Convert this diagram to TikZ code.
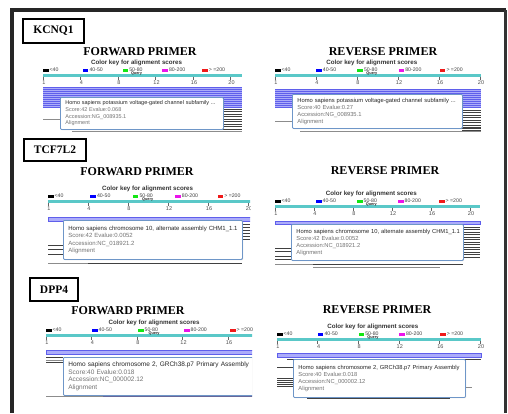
\documentclass[tikz,border=0pt]{standalone}
\usepackage{fontspec}
\setmainfont{Liberation Serif}
\newfontfamily\popfont{Liberation Sans}
\usetikzlibrary{shadows}

\definecolor{querycyan}{RGB}{90,200,200}
\definecolor{hitblue}{RGB}{95,95,235}
\definecolor{hitfill}{RGB}{172,172,250}
\definecolor{popborder}{RGB}{110,150,200}
\definecolor{keygreen}{RGB}{20,230,20}
\definecolor{keymagenta}{RGB}{235,20,235}
\definecolor{keyred}{RGB}{240,25,25}

\tikzset{
  genebox/.style={draw, line width=1.2pt, inner sep=0pt, font=\bfseries\fontsize{11.5}{12}\selectfont},
  primertitle/.style={inner sep=0pt, font=\bfseries\fontsize{12}{12}\selectfont},
  keylabel/.style={inner sep=0pt, text=black!80, font=\popfont\bfseries\fontsize{6.2}{6.5}\selectfont},
  legendtxt/.style={anchor=west, inner sep=0pt, text=black!75, font=\popfont\fontsize{5.2}{5.5}\selectfont},
  querytxt/.style={inner sep=0pt, text=black!85, font=\popfont\bfseries\fontsize{3.8}{4}\selectfont},
  ticklabel/.style={inner sep=0pt, text=black!70, font=\popfont\fontsize{5.5}{6}\selectfont},
  tickmark/.style={draw=black!60, line width=0.5pt},
  hitline/.style={draw=hitblue, line width=0.5pt},
  hitband/.style={fill=hitfill, draw=hitblue, line width=0.6pt},
  darktrace/.style={draw=black!75, line width=0.9pt},
  graytrace/.style={draw=black!45, line width=0.9pt},
  popup/.style={anchor=north west, draw=popborder, line width=0.8pt, fill=white,
    rounded corners=1pt, align=left, inner sep=0pt, inner xsep=5pt, text=black!55,
    font=\popfont\fontsize{5.8}{7}\selectfont,
    drop shadow={shadow xshift=0.8pt, shadow yshift=-0.8pt, opacity=0.3}},
}

% color key, query bar and ticks: #1 left, #2 key y, #3 bar width, #4 tick spacing
\newcommand{\colorkey}[4]{%
  \node[keylabel] at ({#1+0.47*#3},#2) {Color key for alignment scores};
  \foreach \c/\t [count=\i from 0] in {black/{<40}, blue/{40-50}, keygreen/{50-80}, keymagenta/{80-200}, keyred/{> =200}} {
    \fill[\c] ({#1+\i*#3/5},#2+5.5) rectangle ++(5.5,3);
    \node[legendtxt] at ({#1+\i*#3/5+6.5},#2+7) {\t};
  }
  \fill[querycyan] (#1,#2+11) rectangle ++(#3,2.5);
  \node[querytxt] at ({#1+0.47*#3},#2+11) {Query};
  \foreach \n [count=\i from 0] in {1,4,8,12,16,20} {
    \draw[tickmark] ({#1+\i*#4},#2+13.5) -- ++(0,3);
    \node[ticklabel] at ({#1+\i*#4+1},#2+19.5) {\n};
  }
}

\begin{document}
\begin{tikzpicture}[x=1pt, y=-1pt]
\useasboundingbox (0,0) rectangle (508,413);

% Frame
\draw[black!85, line width=3.8pt] (12,413) -- (12,10) -- (506,10);
\draw[black!80, line width=2.5pt] (505.5,10) -- (505.5,413);

% KCNQ1
\node[genebox, minimum width=61pt, minimum height=24pt] (kcnq) at (53.5,31) {KCNQ1};
\node[primertitle] (kcnqfwd) at (140,52) {FORWARD PRIMER};
\node[primertitle] (kcnqrev) at (383,52) {REVERSE PRIMER};

\colorkey{43}{63}{199}{37.5}
\fill[hitfill] (43,87) rectangle (242,107);
\foreach \k in {0,...,10} \draw[hitline] (43,87.5+2*\k) -- (242,87.5+2*\k);
\foreach \yy in {109,111.5,...,129} \draw[darktrace] (223,\yy) -- (242,\yy);
\draw[graytrace] (43,119) -- (60,119);
\draw[graytrace] (72,131) -- (242,131);
\node[popup, text width=153pt, minimum height=32pt, font=\popfont\fontsize{5.5}{6.6}\selectfont] (kcnqfwdpop) at (60,97)
  {\mbox{\textcolor{black!85}{Homo sapiens potassium voltage-gated channel subfamily ...}}\\Score:42 Evalue:0.068\\Accession:NG\_008935.1\\Alignment};

\colorkey{275}{63}{206}{41}
\fill[hitfill] (275,89) rectangle (481,108);
\foreach \k in {0,...,9} \draw[hitline] (275,89.5+2*\k) -- (481,89.5+2*\k);
\foreach \yy in {110,112.5,...,130} \draw[darktrace] (462,\yy) -- (481,\yy);
\draw[graytrace] (275,121) -- (292,121);
\draw[darktrace] (300,128.5) -- (481,128.5);
\draw[graytrace] (300,131) -- (481,131);
\node[popup, text width=160pt, minimum height=34pt] (kcnqrevpop) at (292,94)
  {\mbox{\textcolor{black!85}{Homo sapiens potassium voltage-gated channel subfamily ...}}\\Score:40 Evalue:0.27\\Accession:NG\_008935.1\\Alignment};

% TCF7L2
\node[genebox, minimum width=62pt, minimum height=22pt] (tcf) at (55,150) {TCF7L2};
\node[primertitle] (tcffwd) at (137,172) {FORWARD PRIMER};
\node[primertitle] (tcfrev) at (385,171) {REVERSE PRIMER};

\begin{scope}
\clip (15,130) rectangle (250,270);
\colorkey{48}{189}{212}{40}
\draw[hitband] (48,217) rectangle (262,221);
\foreach \yy in {224,227,...,239} \draw[darktrace] (243,\yy) -- (250,\yy);
\foreach \yy in {245,249.5,254} \draw[darktrace] (48,\yy) -- (63,\yy);
\draw[graytrace] (48,263.5) -- (88,263.5);
\draw[darktrace] (88,263.5) -- (242,263.5);
\node[popup, text width=169pt, minimum height=39pt, font=\popfont\fontsize{6}{7.5}\selectfont] (tcffwdpop) at (63,220)
  {\mbox{\textcolor{black!85}{Homo sapiens chromosome 10, alternate assembly CHM1\_1.1}}\\Score:42 Evalue:0.0052\\Accession:NC\_018921.2\\Alignment};
\end{scope}

\colorkey{275}{194}{205}{39}
\draw[hitband] (275,221) rectangle (480,224);
\foreach \yy in {227,229.5,...,257} \draw[darktrace] (463,\yy) -- (480,\yy);
\foreach \yy in {248,251.5,256,259} \draw[darktrace] (275,\yy) -- (291,\yy);
\draw[graytrace] (275,264) -- (313,264);
\draw[darktrace] (313,264) -- (463,264);
\draw[graytrace] (313,267) -- (440,267);
\node[popup, text width=162pt, minimum height=36pt] (tcfrevpop) at (291,224)
  {\mbox{\textcolor{black!85}{Homo sapiens chromosome 10, alternate assembly CHM1\_1.1}}\\Score:42 Evalue:0.0052\\Accession:NC\_018921.2\\Alignment};

% DPP4
\node[genebox, minimum width=48pt, minimum height=23pt] (dpp) at (54,289.5) {DPP4};
\node[primertitle] (dppfwd) at (128,311) {FORWARD PRIMER};
\node[primertitle] (dpprev) at (377,310) {REVERSE PRIMER};

\begin{scope}
\clip (15,300) rectangle (252,413);
\colorkey{46}{323}{230}{45.5}
\draw[hitband] (46,350) rectangle (276,354);
\draw[darktrace] (46,357) -- (63,357);
\draw[graytrace] (46,360) -- (63,360);
\draw[darktrace] (46,362.5) -- (63,362.5);
\draw[graytrace] (46,396.5) -- (103,396.5);
\draw[draw=black!65!blue!60, line width=1.4pt] (103,396.5) -- (262,396.5);
\node[popup, text width=207pt, minimum height=38pt, font=\popfont\fontsize{6.5}{7.6}\selectfont] (dppfwdpop) at (63,357)
  {\mbox{\textcolor{black!85}{Homo sapiens chromosome 2, GRCh38.p7 Primary Assembly}}\\Score:40 Evalue:0.018\\Accession:NC\_000002.12\\Alignment};
\end{scope}

\colorkey{277}{327}{204}{40.6}
\draw[hitband] (277,353) rectangle (481,357);
\draw[darktrace] (287,359.5) -- (481,359.5);
\draw[darktrace] (277,367) -- (293,367);
\foreach \yy in {378,380,...,386} \draw[darktrace] (277,\yy) -- (293,\yy);
\draw[graytrace] (465,387) -- (472,387);
\draw[darktrace] (307,398.5) -- (450,398.5);
\node[popup, text width=162pt, minimum height=38pt] (dpprevpop) at (293,359)
  {\mbox{\textcolor{black!85}{Homo sapiens chromosome 2, GRCh38.p7 Primary Assembly}}\\Score:40 Evalue:0.018\\Accession:NC\_000002.12\\Alignment};

\end{tikzpicture}
\end{document}
